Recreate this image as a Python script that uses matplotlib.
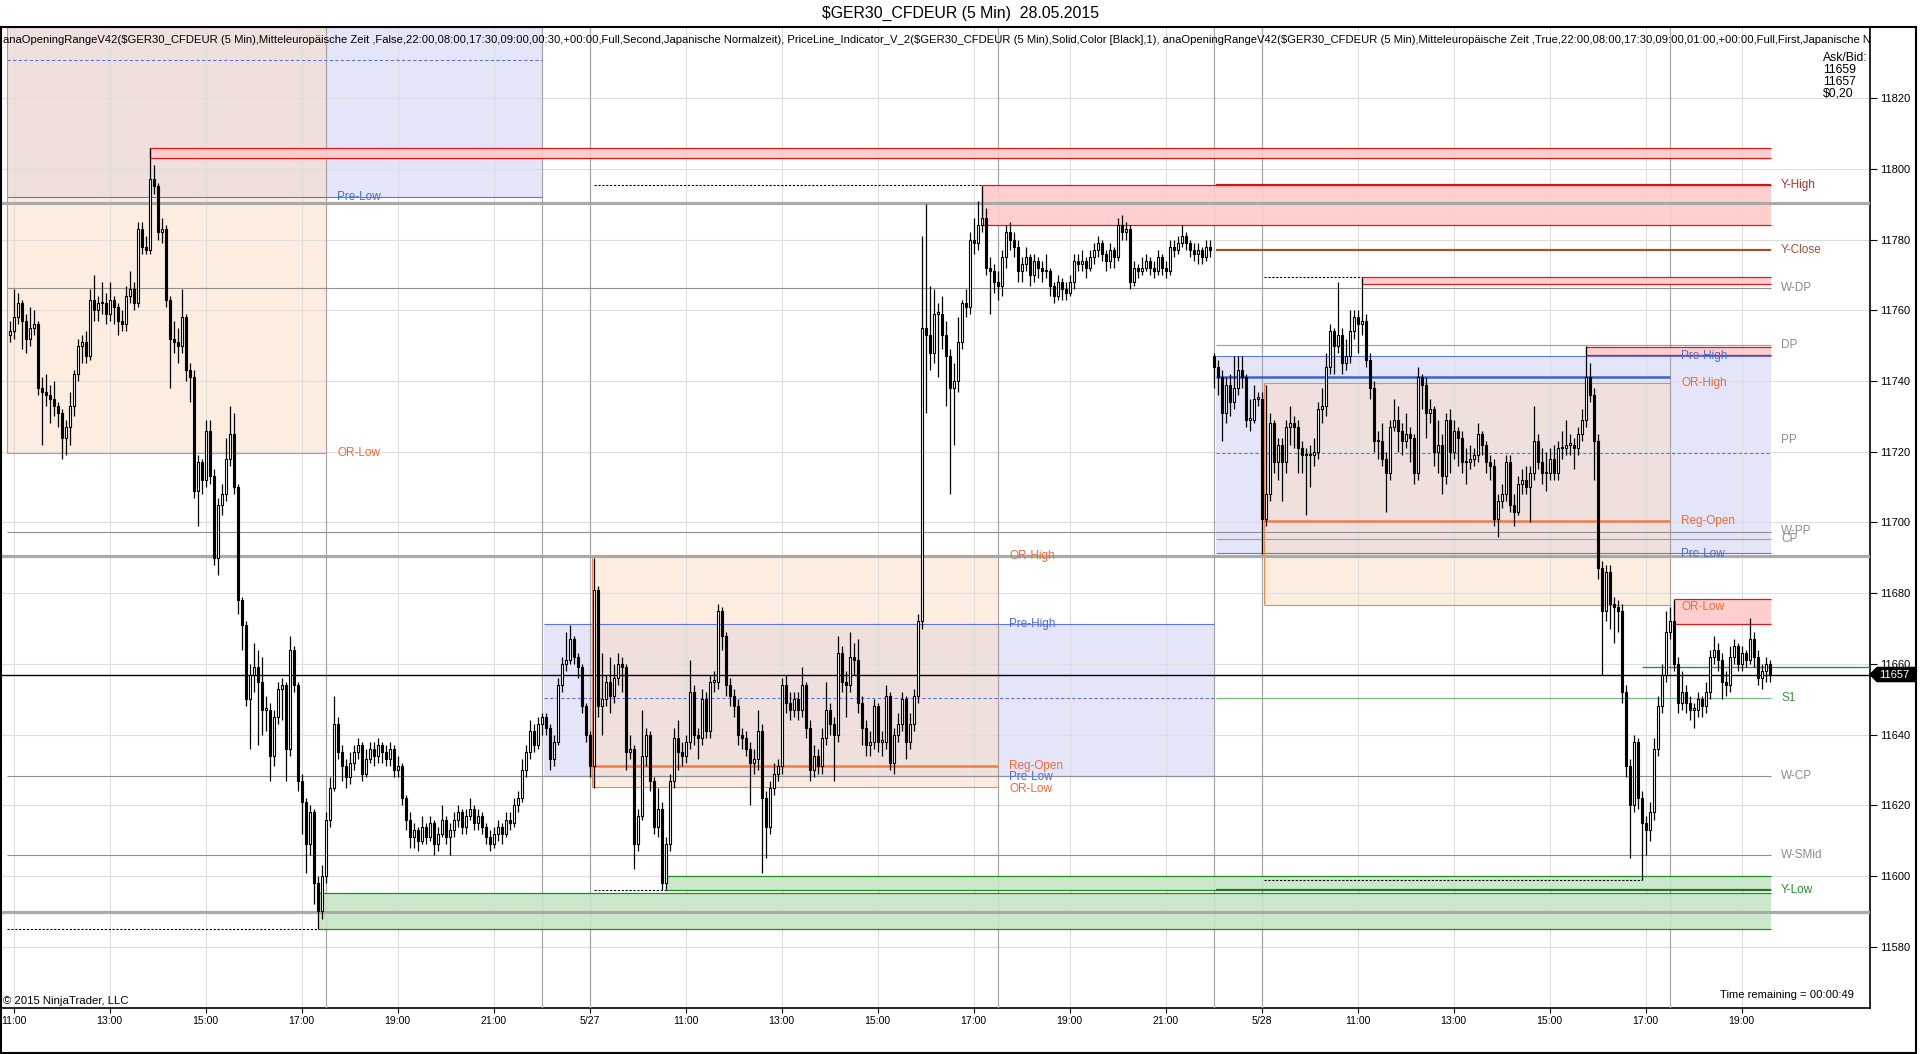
import matplotlib
matplotlib.use("Agg")
import matplotlib.pyplot as plt
import matplotlib.transforms as mtransforms
from matplotlib.patches import Rectangle, Polygon
import numpy as np

plt.rcParams['font.family'] = ['Liberation Sans', 'DejaVu Sans']

# 5-min bars, index 0 = 26.05 10:55 ... 440 = 28.05 19:35
closes = [
    11754, 11758, 11762, 11757, 11752, 11755, 11756, 11738, 11737, 11736,
    11735, 11733, 11731, 11724, 11727, 11733, 11742, 11750, 11751, 11747,
    11763, 11760, 11762, 11762, 11759, 11763, 11761, 11757, 11756, 11764,
    11766, 11762, 11783, 11778, 11777, 11797, 11795, 11782, 11783, 11763,
    11752, 11751, 11750, 11758, 11743, 11741, 11709, 11717, 11712, 11726,
    11713, 11690, 11705, 11708, 11718, 11725, 11710, 11678, 11671, 11650,
    11657, 11659, 11655, 11647, 11647, 11634, 11645, 11653, 11654, 11636,
    11664, 11654, 11627, 11621, 11609, 11618, 11598, 11590, 11600, 11616,
    11625, 11643, 11635, 11631, 11628, 11632, 11635, 11637, 11629, 11633,
    11636, 11634, 11637, 11635, 11633, 11636, 11630, 11631, 11622, 11616,
    11611, 11613, 11610, 11614, 11611, 11615, 11609, 11612, 11616, 11611,
    11613, 11616, 11618, 11614, 11617, 11619, 11615, 11617, 11614, 11611,
    11609, 11612, 11614, 11612, 11616, 11615, 11620, 11622, 11630, 11635,
    11641, 11637, 11643, 11645, 11642, 11633, 11638, 11654, 11660, 11661,
    11667, 11662, 11659, 11648, 11640, 11631, 11681, 11648, 11650, 11655,
    11651, 11656, 11660, 11659, 11635, 11636, 11609, 11617, 11634, 11640,
    11627, 11614, 11619, 11598, 11609, 11627, 11639, 11635, 11634, 11638,
    11652, 11640, 11639, 11650, 11641, 11655, 11655, 11675, 11668, 11654,
    11651, 11648, 11640, 11639, 11636, 11632, 11633, 11641, 11622, 11614,
    11625, 11629, 11631, 11654, 11649, 11647, 11650, 11647, 11654, 11642,
    11630, 11634, 11631, 11639, 11647, 11643, 11640, 11663, 11655, 11654,
    11662, 11661, 11649, 11642, 11637, 11638, 11648, 11638, 11638, 11651,
    11632, 11640, 11643, 11650, 11638, 11643, 11651, 11672, 11755, 11753,
    11748, 11759, 11759, 11753, 11747, 11738, 11740, 11751, 11762, 11761,
    11780, 11779, 11784, 11786, 11772, 11771, 11768, 11767, 11775, 11782,
    11780, 11778, 11771, 11773, 11775, 11770, 11774, 11772, 11771, 11771,
    11767, 11764, 11768, 11766, 11765, 11768, 11774, 11773, 11774, 11772,
    11775, 11777, 11779, 11776, 11774, 11777, 11775, 11784, 11782, 11783,
    11768, 11772, 11771, 11772, 11774, 11772, 11771, 11775, 11772, 11771,
    11778, 11777, 11779, 11781, 11779, 11777, 11776, 11777, 11775, 11778,
    11777, 11744, 11741, 11731, 11739, 11734, 11738, 11743, 11741, 11729,
    11729, 11735, 11735, 11701, 11708, 11728, 11717, 11722, 11717, 11727,
    11728, 11727, 11721, 11719, 11719, 11719, 11720, 11732, 11733, 11744,
    11754, 11750, 11753, 11745, 11747, 11754, 11758, 11756, 11757, 11746,
    11738, 11723, 11723, 11718, 11714, 11727, 11729, 11726, 11723, 11725,
    11724, 11714, 11741, 11739, 11731, 11732, 11720, 11722, 11713, 11729,
    11720, 11726, 11724, 11717, 11717, 11718, 11719, 11725, 11722, 11717,
    11716, 11701, 11706, 11708, 11717, 11705, 11703, 11711, 11712, 11710,
    11714, 11723, 11717, 11714, 11714, 11718, 11714, 11721, 11721, 11722,
    11722, 11721, 11725, 11729, 11741, 11736, 11723, 11687, 11675, 11686,
    11677, 11676, 11675, 11652, 11631, 11620, 11638, 11622, 11615, 11613,
    11618, 11636, 11648, 11657, 11669, 11672, 11660, 11649, 11652, 11649,
    11647, 11647, 11650, 11648, 11652, 11662, 11664, 11661, 11655, 11654,
    11662, 11665, 11660, 11663, 11661, 11667, 11662, 11656, 11658, 11660,
    11657,
]
highs = [
    11757, 11766, 11765, 11763, 11759, 11761, 11760, 11757, 11741, 11742,
    11739, 11740, 11734, 11732, 11729, 11737, 11743, 11752, 11753, 11754,
    11766, 11770, 11764, 11768, 11765, 11768, 11764, 11762, 11760, 11767,
    11771, 11768, 11785, 11785, 11781, 11806, 11801, 11796, 11786, 11784,
    11764, 11757, 11755, 11766, 11759, 11745, 11743, 11719, 11718, 11729,
    11729, 11715, 11707, 11711, 11724, 11733, 11731, 11711, 11679, 11672,
    11660, 11666, 11664, 11662, 11651, 11649, 11647, 11655, 11656, 11655,
    11668, 11665, 11655, 11629, 11622, 11620, 11619, 11600, 11603, 11618,
    11628, 11651, 11645, 11637, 11633, 11635, 11637, 11639, 11638, 11636,
    11638, 11638, 11639, 11638, 11637, 11638, 11637, 11634, 11632, 11623,
    11618, 11615, 11614, 11617, 11615, 11617, 11616, 11614, 11620, 11617,
    11615, 11618, 11620, 11619, 11619, 11622, 11620, 11619, 11618, 11615,
    11613, 11614, 11616, 11615, 11618, 11618, 11622, 11624, 11633, 11637,
    11644, 11643, 11645, 11646, 11646, 11643, 11640, 11656, 11662, 11669,
    11671, 11668, 11663, 11660, 11649, 11641, 11690, 11682, 11663, 11657,
    11662, 11660, 11663, 11662, 11660, 11640, 11637, 11619, 11647, 11642,
    11641, 11628, 11625, 11621, 11611, 11629, 11642, 11644, 11638, 11640,
    11661, 11654, 11642, 11653, 11652, 11657, 11658, 11677, 11676, 11669,
    11656, 11653, 11650, 11642, 11641, 11638, 11636, 11647, 11643, 11624,
    11627, 11632, 11633, 11656, 11657, 11652, 11652, 11652, 11659, 11655,
    11644, 11637, 11636, 11642, 11655, 11649, 11645, 11668, 11665, 11658,
    11669, 11666, 11667, 11651, 11644, 11641, 11650, 11649, 11641, 11654,
    11652, 11642, 11646, 11652, 11651, 11646, 11653, 11674, 11781, 11790,
    11767, 11766, 11762, 11764, 11757, 11749, 11745, 11758, 11763, 11766,
    11782, 11786, 11791, 11795, 11789, 11775, 11773, 11771, 11777, 11784,
    11785, 11782, 11780, 11775, 11778, 11776, 11776, 11775, 11774, 11776,
    11772, 11768, 11770, 11769, 11768, 11770, 11776, 11776, 11777, 11775,
    11777, 11779, 11781, 11780, 11777, 11779, 11778, 11786, 11787, 11785,
    11784, 11774, 11773, 11775, 11776, 11775, 11774, 11777, 11776, 11774,
    11780, 11780, 11781, 11784, 11782, 11780, 11779, 11779, 11778, 11780,
    11780, 11748, 11746, 11743, 11741, 11742, 11747, 11747, 11747, 11742,
    11735, 11739, 11737, 11737, 11739, 11731, 11729, 11724, 11724, 11729,
    11733, 11730, 11729, 11723, 11721, 11722, 11724, 11734, 11738, 11748,
    11756, 11755, 11768, 11755, 11752, 11760, 11760, 11760, 11769, 11759,
    11748, 11740, 11726, 11728, 11720, 11729, 11735, 11733, 11728, 11731,
    11727, 11725, 11744, 11742, 11741, 11735, 11733, 11729, 11725, 11731,
    11732, 11729, 11727, 11726, 11721, 11722, 11721, 11728, 11726, 11723,
    11719, 11718, 11708, 11711, 11719, 11719, 11708, 11713, 11715, 11716,
    11716, 11733, 11725, 11721, 11720, 11721, 11722, 11723, 11726, 11729,
    11725, 11724, 11727, 11732, 11750, 11745, 11738, 11725, 11689, 11688,
    11688, 11679, 11678, 11677, 11654, 11633, 11640, 11639, 11624, 11617,
    11621, 11639, 11651, 11660, 11675, 11676, 11678, 11662, 11658, 11654,
    11651, 11649, 11652, 11651, 11655, 11664, 11668, 11666, 11663, 11658,
    11665, 11667, 11666, 11665, 11664, 11673, 11669, 11664, 11660, 11662,
    11661,
]
lows = [
    11751, 11752, 11756, 11749, 11748, 11750, 11753, 11736, 11722, 11733,
    11728, 11730, 11727, 11718, 11719, 11722, 11730, 11740, 11745, 11745,
    11746, 11757, 11757, 11759, 11756, 11757, 11756, 11753, 11754, 11754,
    11762, 11760, 11761, 11776, 11776, 11776, 11793, 11780, 11779, 11761,
    11738, 11748, 11745, 11748, 11740, 11734, 11707, 11699, 11708, 11710,
    11711, 11688, 11685, 11702, 11706, 11716, 11708, 11674, 11664, 11648,
    11636, 11652, 11637, 11640, 11641, 11627, 11631, 11643, 11644, 11627,
    11634, 11652, 11624, 11612, 11601, 11606, 11592, 11585, 11588, 11598,
    11614, 11624, 11633, 11627, 11625, 11626, 11630, 11633, 11627, 11628,
    11632, 11631, 11632, 11632, 11631, 11631, 11628, 11628, 11620, 11613,
    11608, 11608, 11607, 11609, 11609, 11610, 11606, 11607, 11611, 11609,
    11606, 11611, 11614, 11612, 11612, 11616, 11613, 11613, 11612, 11609,
    11607, 11608, 11610, 11609, 11611, 11613, 11614, 11618, 11621, 11628,
    11633, 11635, 11636, 11640, 11640, 11630, 11631, 11637, 11652, 11658,
    11660, 11660, 11656, 11646, 11638, 11628, 11625, 11645, 11640, 11648,
    11646, 11649, 11654, 11652, 11630, 11633, 11602, 11607, 11616, 11631,
    11624, 11612, 11611, 11596, 11596, 11607, 11625, 11630, 11631, 11632,
    11636, 11637, 11633, 11637, 11639, 11639, 11652, 11653, 11664, 11651,
    11648, 11645, 11637, 11636, 11634, 11620, 11629, 11630, 11601, 11605,
    11612, 11623, 11627, 11629, 11646, 11644, 11645, 11644, 11645, 11639,
    11627, 11628, 11629, 11629, 11637, 11640, 11627, 11638, 11652, 11645,
    11652, 11657, 11646, 11637, 11634, 11634, 11636, 11635, 11634, 11636,
    11630, 11629, 11638, 11641, 11633, 11636, 11641, 11649, 11670, 11731,
    11743, 11745, 11741, 11749, 11733, 11708, 11722, 11737, 11749, 11758,
    11759, 11776, 11777, 11782, 11770, 11759, 11765, 11763, 11764, 11772,
    11777, 11775, 11768, 11768, 11771, 11767, 11768, 11769, 11768, 11769,
    11764, 11762, 11763, 11763, 11763, 11764, 11766, 11771, 11771, 11769,
    11771, 11773, 11775, 11774, 11771, 11772, 11772, 11774, 11780, 11780,
    11766, 11767, 11769, 11770, 11771, 11770, 11769, 11770, 11770, 11769,
    11770, 11775, 11776, 11778, 11777, 11775, 11774, 11773, 11773, 11774,
    11775, 11738, 11736, 11723, 11728, 11730, 11732, 11736, 11738, 11727,
    11726, 11728, 11733, 11691, 11699, 11706, 11714, 11712, 11706, 11714,
    11722, 11721, 11714, 11714, 11702, 11710, 11716, 11718, 11728, 11730,
    11742, 11742, 11748, 11742, 11743, 11745, 11752, 11748, 11753, 11744,
    11735, 11720, 11718, 11716, 11703, 11712, 11726, 11720, 11719, 11721,
    11717, 11711, 11712, 11732, 11724, 11728, 11716, 11714, 11708, 11711,
    11714, 11718, 11716, 11714, 11711, 11715, 11716, 11717, 11719, 11714,
    11712, 11699, 11696, 11704, 11706, 11703, 11699, 11702, 11708, 11708,
    11700, 11712, 11715, 11711, 11709, 11712, 11712, 11712, 11718, 11719,
    11719, 11715, 11719, 11723, 11727, 11734, 11712, 11684, 11657, 11672,
    11670, 11666, 11669, 11649, 11628, 11605, 11618, 11619, 11599, 11606,
    11610, 11616, 11634, 11646, 11655, 11667, 11658, 11646, 11647, 11646,
    11644, 11642, 11645, 11645, 11646, 11650, 11660, 11658, 11650, 11651,
    11652, 11660, 11658, 11658, 11659, 11660, 11659, 11654, 11653, 11655,
    11655,
]
# session starts where the open is not the previous close
gap_idx = [0, 301]
gap_open = [11753, 11747]

tick_idx = [1, 25, 49, 73, 97, 121, 145, 169, 193, 217, 241, 265, 289,
            313, 337, 361, 385, 409, 433]
tick_lab = ['11:00', '13:00', '15:00', '17:00', '19:00', '21:00', '5/27',
            '11:00', '13:00', '15:00', '17:00', '19:00', '21:00', '5/28',
            '11:00', '13:00', '15:00', '17:00', '19:00']
session_idx = [79, 133, 145, 247, 301, 313, 415]
price_ticks = [11580, 11600, 11620, 11640, 11660, 11680, 11700, 11720,
               11740, 11760, 11780, 11800, 11820]

# opening range / pre-session boxes, one entry per day
or_x0 = [-0.6, 145.6, 313.6]
or_x1 = [79, 247, 415]
or_low = [11719.6, 11625.3, 11676.6]
or_high = [11850, 11690.4, 11739.4]
reg_open = [None, 11631.2, 11700.4]
pre_x0 = [-0.6, 133.6, 301.6]
pre_x1 = [133, 301, 440.4]
pre_low = [11792.0, 11628.4, 11691.4]
pre_high = [11850, 11671.4, 11747.2]
pre_mid = [11830.7, 11650.4, 11719.6]
lab_x = [81.9, 249.9, 417.9]

# support / resistance zones
red_y0 = [11803.0, 11784.0, 11767.3, 11747.3, 11671.4]
red_y1 = [11806.0, 11795.3, 11769.4, 11749.6, 11678.4]
red_x0 = [35, 243, 338, 394, 416]
green_y0 = [11585.1, 11596.0]
green_y1 = [11595.3, 11600.0]
green_x0 = [77, 164]
dash_y = [11585.0, 11795.3, 11596.0, 11769.4, 11599.0]
dash_x0 = [-0.6, 146, 146, 313.6, 313.6]
dash_x1 = [77, 243, 164, 338, 408]

weekly_y = [11766.3, 11697.4, 11628.4, 11606.0]
heavy_y = [11790.3, 11690.4, 11589.9]

piv_names = ['Y-High', 'Y-Close', 'W-DP', 'DP', 'PP', 'W-PP', 'CP', 'S1',
             'W-CP', 'W-SMid', 'Y-Low']
piv_y = [11795.3, 11777.0, 11766.3, 11750.3, 11723.4, 11697.6, 11695.4,
         11650.4, 11628.4, 11606.0, 11596.0]
piv_col = ['#b03030', '#a0522d', '#8c8c8c', '#8c8c8c', '#8c8c8c', '#8c8c8c',
           '#8c8c8c', '#3c963c', '#8c8c8c', '#8c8c8c', '#2e8b2e']

bid = 11657
ask = 11659
ask_x0 = 408

indicator_txt = ("anaOpeningRangeV42($GER30_CFDEUR (5 Min),Mitteleuropäische Zeit ,False,"
                 "22:00,08:00,17:30,09:00,00:30,+00:00,Full,Second,Japanische Normalzeit), "
                 "PriceLine_Indicator_V_2($GER30_CFDEUR (5 Min),Solid,Color [Black],1), "
                 "anaOpeningRangeV42($GER30_CFDEUR (5 Min),Mitteleuropäische Zeit ,True,"
                 "22:00,08:00,17:30,09:00,01:00,+00:00,Full,First,Japanische Normalzeit)")

W, H = 1920, 1054
fig = plt.figure(figsize=(W / 100, H / 100), dpi=100)
ax = fig.add_axes([0, (H - 1008) / H, 1870 / W, (1008 - 27) / H])
XMAX = 465.1
END = 440.4
ax.set_xlim(-2.375, XMAX)
ax.set_ylim(11562.7, 11840.1)

OR_C = '#f3874b'
PRE_C = '#5a78dc'
LAB_OR = '#f06a3a'
LAB_PRE = '#4a6cd4'

# boxes
for i in range(3):
    ax.add_patch(Rectangle((pre_x0[i], pre_low[i]), pre_x1[i] - pre_x0[i], pre_high[i] - pre_low[i],
                           facecolor='#e4e5f8', edgecolor='none', zorder=1))
    ax.hlines([pre_low[i], pre_high[i]], pre_x0[i], pre_x1[i], color=PRE_C, lw=0.8, zorder=3)
    ax.hlines(pre_mid[i], pre_x0[i], pre_x1[i], color=PRE_C, lw=0.8, ls=(0, (3, 2)), zorder=3)
for i in range(3):
    ax.add_patch(Rectangle((or_x0[i], or_low[i]), or_x1[i] - or_x0[i], or_high[i] - or_low[i],
                           facecolor='#fbddc3', alpha=0.5, edgecolor='none', zorder=2))
    ax.hlines([or_low[i], or_high[i]], or_x0[i], or_x1[i], color=OR_C, lw=0.8, zorder=3)
    ax.vlines(or_x0[i], or_low[i], or_high[i], color=OR_C, lw=0.8, zorder=3)
    if reg_open[i] is not None:
        ax.hlines(reg_open[i], or_x0[i], or_x1[i], color='#f47b40', lw=1.8, zorder=3)

# grid
for p in price_ticks:
    ax.axhline(p, color='#dedede', lw=0.8, zorder=2.5)
for t in tick_idx:
    ax.axvline(t, color='#dedede', lw=0.8, zorder=2.5)
for s in session_idx:
    ax.axvline(s, color='#a8a8a8', lw=0.9, zorder=2.6)

# zones
for y0, y1, x0 in zip(red_y0, red_y1, red_x0):
    ax.add_patch(Rectangle((x0, y0), END - x0, y1 - y0, facecolor='#ffcaca',
                           edgecolor='none', alpha=0.9, zorder=2.7))
    ax.hlines([y0, y1], x0, END, color='#e01818', lw=0.9, zorder=3)
    ax.vlines(x0, y0, y1, color='#e01818', lw=0.9, zorder=3)
for y0, y1, x0 in zip(green_y0, green_y1, green_x0):
    ax.add_patch(Rectangle((x0, y0), END - x0, y1 - y0, facecolor='#c6e6c6',
                           edgecolor='none', alpha=0.9, zorder=2.7))
    ax.hlines([y0, y1], x0, END, color='#1e8c1e', lw=0.9, zorder=3)
for y, x0, x1 in zip(dash_y, dash_x0, dash_x1):
    ax.hlines(y, x0, x1, color='black', lw=0.8, ls=(0, (2, 1.5)), zorder=3)

for y in weekly_y:
    ax.hlines(y, -0.6, END, color='#909090', lw=0.8, zorder=3)
for y in heavy_y:
    ax.axhline(y, color='#a6a6a6', lw=2.3, alpha=0.95, zorder=3.1)

# day-3 pivots
d3 = pre_x0[2]
ax.hlines(piv_y[0], d3, END, color='#c41a1a', lw=1.6, zorder=3.2)
ax.hlines(piv_y[1], d3, END, color='#a0522d', lw=1.6, zorder=3.2)
ax.hlines(piv_y[3], d3, END, color='#a0a0a0', lw=0.9, zorder=3.2)
ax.hlines(piv_y[6], d3, END, color='#a0a0a0', lw=0.9, zorder=3.2)
ax.hlines(piv_y[7], d3, END, color='#7bb87b', lw=0.9, zorder=3.2)
ax.hlines(piv_y[10], d3, END, color='#1e7a1e', lw=1.6, zorder=3.2)
ax.hlines(11741.2, d3, or_x1[2], color='#3a5fd8', lw=1.8, zorder=3.2)

# price lines
ax.axhline(bid, color='black', lw=1.0, zorder=4)
ax.hlines(ask, ask_x0, XMAX, color='#2e8b57', lw=1.0, zorder=4)

# candles
c = np.array(closes, dtype=float)
h = np.array(highs, dtype=float)
l = np.array(lows, dtype=float)
n = min(len(c), len(h), len(l))
c, h, l = c[:n], h[:n], l[:n]
o = np.empty(n)
o[1:] = c[:-1]
for gi, go in zip(gap_idx, gap_open):
    o[gi] = go
x = np.arange(n)
ax.vlines(x, l, h, color='black', lw=0.9, zorder=5)
bot = np.minimum(o, c)
hgt = np.maximum(np.abs(c - o), 0.4)
up = c >= o
ax.bar(x[up], hgt[up], bottom=bot[up], width=0.5, facecolor='white',
       edgecolor='black', linewidth=0.8, zorder=6)
ax.bar(x[~up], hgt[~up], bottom=bot[~up], width=0.5, facecolor='black',
       edgecolor='black', linewidth=0.8, zorder=6)

# level labels
fs = 8.5
ax.text(lab_x[0], pre_low[0], 'Pre-Low', color=LAB_PRE, fontsize=fs, va='center', zorder=7)
ax.text(lab_x[0], or_low[0], 'OR-Low', color=LAB_OR, fontsize=fs, va='center', zorder=7)
for i in (1, 2):
    ax.text(lab_x[i], or_high[i], 'OR-High', color=LAB_OR, fontsize=fs, va='center', zorder=7)
    ax.text(lab_x[i], pre_high[i], 'Pre-High', color=LAB_PRE, fontsize=fs, va='center', zorder=7)
    ax.text(lab_x[i], reg_open[i], 'Reg-Open', color=LAB_OR, fontsize=fs, va='center', zorder=7)
    ax.text(lab_x[i], pre_low[i] - 0.4, 'Pre-Low', color=LAB_PRE, fontsize=fs, va='center', zorder=7)
    ax.text(lab_x[i], or_low[i] - 0.6, 'OR-Low', color=LAB_OR, fontsize=fs, va='center', zorder=7)
for name, y, col in zip(piv_names, piv_y, piv_col):
    ax.text(442.9, y, name, color=col, fontsize=fs, va='center', zorder=7)

ax.text(0.0015, 0.9915, indicator_txt, transform=ax.transAxes, fontsize=8.1, va='top',
        ha='left', clip_on=True, parse_math=False, zorder=8)
ax.text(0.0015, 0.0025, '© 2015 NinjaTrader, LLC', transform=ax.transAxes, fontsize=8.2,
        va='bottom', ha='left', zorder=8)
ax.text(1854 / 1870, 0.008, 'Time remaining = 00:00:49', transform=ax.transAxes, fontsize=8.1,
        va='bottom', ha='right', zorder=8)

# axes
ax.set_xticks(tick_idx)
ax.set_xticklabels(tick_lab)
ax.yaxis.tick_right()
ax.set_yticks(price_ticks)
ax.set_yticklabels([str(p) for p in price_ticks])
ax.tick_params(axis='x', length=3.6, labelsize=7.6, pad=2)
ax.tick_params(axis='y', length=5, labelsize=8, pad=2)
for sp in ax.spines.values():
    sp.set_color('black')
    sp.set_linewidth(1.2)

# last price marker on the right axis
tr = mtransforms.blended_transform_factory(ax.transAxes, ax.transData)
dy = 2.0
ax_w = 1870
pts = [(1.0, bid), (1.0 + 7 / ax_w, bid + dy), (1.0 + 46 / ax_w, bid + dy),
       (1.0 + 46 / ax_w, bid - dy), (1.0 + 7 / ax_w, bid - dy)]
ax.add_patch(Polygon(pts, closed=True, transform=tr, facecolor='black',
                     edgecolor='black', clip_on=False, zorder=10))
ax.text(1.0 + 9 / ax_w, bid, str(bid), transform=tr, color='white', fontsize=8,
        va='center', ha='left', clip_on=False, zorder=11)

fig.text(1823 / W, 1 - 52 / H, 'Ask/Bid:\n%d\n%d\n$0,20' % (ask, bid), fontsize=8.7,
         va='top', ha='left', linespacing=1.0, parse_math=False)
fig.text(0.5, 1 - 13 / H, '$GER30_CFDEUR (5 Min)  28.05.2015', fontsize=11.4,
         ha='center', va='center', parse_math=False)
fig.patches.append(Rectangle((0.0005, 1 / H), 1915 / W, (1053 - 27) / H, transform=fig.transFigure,
                             fill=False, edgecolor='black', linewidth=1.5))

fig.savefig('out.png', dpi=100)
